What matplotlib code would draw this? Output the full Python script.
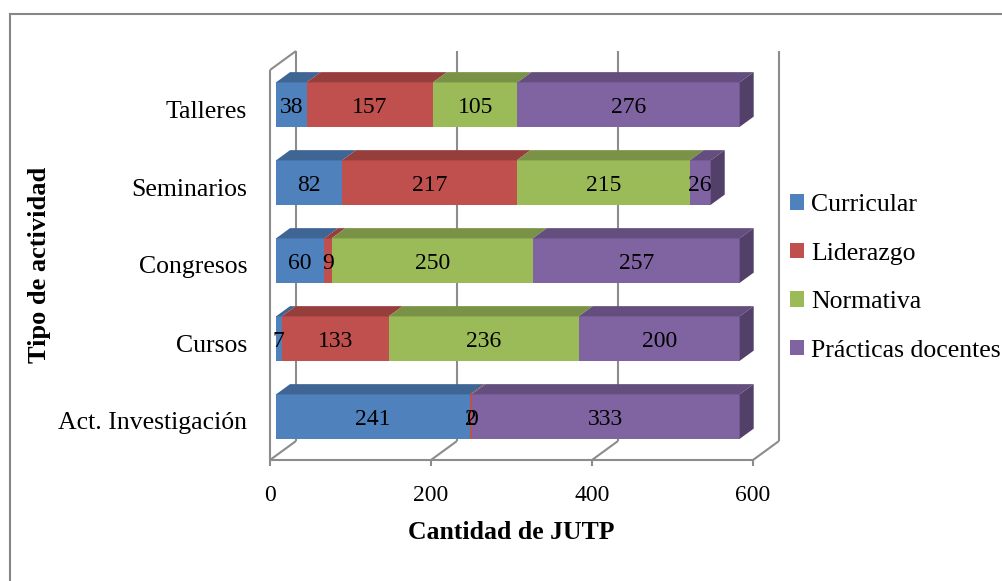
import matplotlib
matplotlib.use("Agg")
import matplotlib.pyplot as plt
import numpy as np
from matplotlib.patches import Polygon, Patch
from matplotlib.lines import Line2D
import matplotlib.colors as mcolors

# Data
categories = ["Act. Investigación", "Cursos", "Congresos", "Seminarios", "Talleres"]
series_names = ["Curricular", "Liderazgo", "Normativa", "Prácticas docentes"]
curricular = [241, 7, 60, 82, 38]
liderazgo = [2, 133, 9, 217, 157]
normativa = [0, 236, 250, 215, 105]
practicas = [333, 200, 257, 26, 276]
x_ticks = [0, 200, 400, 600]
colors = ["#4F81BD", "#C0504D", "#9BBB59", "#8064A2"]

plt.rcParams["font.family"] = ["Liberation Serif", "DejaVu Serif"]
FS_NUM = 17     # numbers (data labels, x ticks)
FS_TXT = 18.5   # words (categories, titles, legend)

W, H = 1003, 581
fig = plt.figure(figsize=(W / 100, H / 100), dpi=100)

# front plane of the box, in pixels
L, R, T, B = 270, 753, 70, 460
ax = fig.add_axes([L / W, 1 - B / H, (R - L) / W, (B - T) / H])
ax.set_xlim(0, 600)
ax.set_ylim(-0.5, 4.5)
ax.patch.set_visible(False)
for s in ax.spines.values():
    s.set_visible(False)

px_x = (R - L) / 600.0
px_y = (B - T) / 5.0
DX = 26 / px_x      # full box depth, in data units
DY = 19 / px_y


def depth(x, y, d):
    return x + d * DX, y + d * DY


grid_c = "#8C8C8C"
lw = 1.5
kw = dict(color=grid_c, lw=lw, clip_on=False, zorder=1, solid_capstyle="butt")

# back wall gridlines and floor lines
for t in x_ticks:
    xb0, yb0 = depth(t, -0.5, 1)
    xb1, yb1 = depth(t, 4.5, 1)
    ax.plot([xb0, xb1], [yb0, yb1], **kw)
    xf, yf = depth(t, -0.5, 0)
    ax.plot([xf, xb0], [yf, yb0], **kw)
# floor front edge
ax.plot([0, 600], [-0.5, -0.5], **kw)
# left wall
ax.plot([0, 0], [-0.5, 4.5], **kw)
xt, yt = depth(0, 4.5, 1)
ax.plot([0, xt], [4.5, yt], **kw)


def shade(c, k):
    r, g, b = mcolors.to_rgb(c)
    return (r * k, g * k, b * k)


# bars
f0, f1 = 0.23, 0.77
h = 0.57
series = [curricular, liderazgo, normativa, practicas]
ypos = np.arange(len(categories))
lefts = np.zeros(len(categories))
ends = np.sum(np.array(series), axis=0)
for vals, col in zip(series, colors):
    vals = np.array(vals, dtype=float)
    ax.barh(ypos + f0 * DY, vals, left=lefts + f0 * DX, height=h,
            color=col, zorder=3, edgecolor="none")
    for i, (l, v) in enumerate(zip(lefts, vals)):
        yc = ypos[i]
        ytop = yc + h / 2
        ybot = yc - h / 2
        if v > 0:
            pts = [depth(l, ytop, f0), depth(l + v, ytop, f0),
                   depth(l + v, ytop, f1), depth(l, ytop, f1)]
            ax.add_patch(Polygon(pts, closed=True, facecolor=shade(col, 0.78),
                                 edgecolor="none", zorder=3, clip_on=False))
            if abs(l + v - ends[i]) < 1e-9:
                pts = [depth(l + v, ybot, f0), depth(l + v, ytop, f0),
                       depth(l + v, ytop, f1), depth(l + v, ybot, f1)]
                ax.add_patch(Polygon(pts, closed=True, facecolor=shade(col, 0.64),
                                     edgecolor="none", zorder=3, clip_on=False))
        cx, cy = depth(l + v / 2, yc, f0)
        ax.text(cx, cy, f"{int(v)}", ha="center", va="center_baseline",
                fontsize=FS_NUM, color="black", zorder=5)
    lefts = lefts + vals

# axes ticks
ax.set_xticks(x_ticks)
ax.set_xticklabels([str(t) for t in x_ticks])
ax.set_yticks(ypos)
ax.set_yticklabels(categories)
ax.tick_params(axis="x", direction="out", length=4.3, width=lw, color=grid_c,
               labelsize=FS_NUM, pad=13.5)
ax.tick_params(axis="y", length=0, labelsize=FS_TXT, pad=16.5)

ax.set_xlabel("Cantidad de JUTP", fontsize=FS_TXT, fontweight="bold", labelpad=11)
ax.set_ylabel("Tipo de actividad", fontsize=FS_TXT + 0.5, fontweight="bold", labelpad=5)

# legend
handles = [Patch(facecolor=c, edgecolor="none") for c in colors]
fig.legend(handles, series_names, loc="center left",
           bbox_to_anchor=(790 / W, 1 - 278 / H), frameon=False, fontsize=FS_TXT,
           handlelength=0.55, handleheight=0.55, handletextpad=0.26,
           labelspacing=1.03, borderpad=0, borderaxespad=0)

# chart area border
fig.add_artist(Line2D([10 / W, 10 / W], [0, 1 - 14 / H], color="#868686", lw=1.5,
                      transform=fig.transFigure))
fig.add_artist(Line2D([10 / W, 1], [1 - 14 / H, 1 - 14 / H], color="#868686", lw=1.5,
                      transform=fig.transFigure))

fig.savefig("out.png", dpi=100)
